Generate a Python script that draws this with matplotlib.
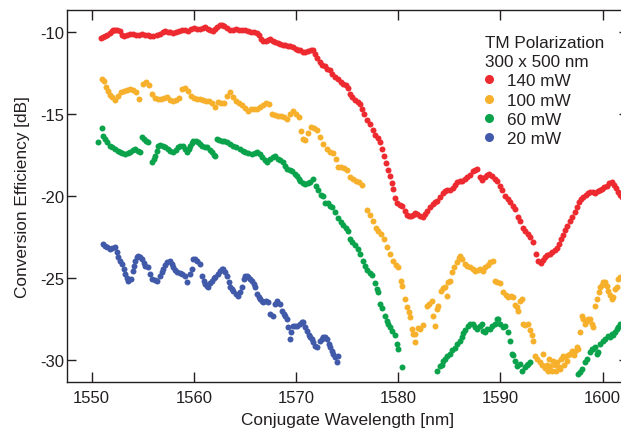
import matplotlib
matplotlib.use("Agg")
import matplotlib.pyplot as plt
from matplotlib.lines import Line2D

plt.rcParams['font.family'] = ['Liberation Sans', 'DejaVu Sans']
plt.rcParams['axes.unicode_minus'] = False

# ---------------- data ----------------
red_x = [1550.91, 1551.11, 1551.30, 1551.50, 1551.79, 1551.98, 1552.08, 1552.28, 1552.47, 1552.77,
         1552.96, 1553.16, 1553.45, 1553.75, 1554.04, 1554.33, 1554.63, 1554.92, 1555.22, 1555.51,
         1555.70, 1556.00, 1556.39, 1556.68, 1556.98, 1557.17, 1557.47, 1557.66, 1557.96, 1558.25,
         1558.54, 1558.84, 1559.13, 1559.42, 1559.72, 1560.01, 1560.30, 1560.60, 1560.89, 1561.09,
         1561.38, 1561.58, 1561.87, 1562.06, 1562.26, 1562.55, 1562.75, 1562.94, 1563.24, 1563.53,
         1563.82, 1564.12, 1564.41, 1564.71, 1565.00, 1565.29, 1565.59, 1565.88, 1566.18, 1566.37,
         1566.57, 1566.76, 1567.05, 1567.25, 1567.45, 1567.74, 1567.94, 1568.23, 1568.42, 1568.72,
         1568.91, 1569.21, 1569.40, 1569.70, 1569.99, 1570.19, 1570.38, 1570.68, 1570.87, 1571.17,
         1571.46, 1571.65, 1571.85, 1572.05, 1572.34, 1572.53, 1572.83, 1573.02, 1573.32, 1573.51,
         1573.81, 1574.10, 1574.39, 1574.59, 1574.88, 1575.08, 1575.27, 1575.47, 1575.77, 1576.06,
         1576.25, 1576.45, 1576.64, 1576.94, 1577.23, 1577.52, 1577.72, 1578.01, 1578.21, 1578.41,
         1578.60, 1578.80, 1578.99, 1579.19, 1579.38, 1579.48, 1579.68, 1579.87, 1580.17, 1580.36,
         1580.66, 1580.85, 1581.05, 1581.24, 1581.44, 1581.64, 1581.83, 1582.12, 1582.42, 1582.61,
         1582.81, 1583.10, 1583.40, 1583.59, 1583.79, 1584.08, 1584.37, 1584.57, 1584.77, 1585.06,
         1585.35, 1585.55, 1585.74, 1586.04, 1586.23, 1586.53, 1586.72, 1587.02, 1587.31, 1587.51,
         1587.70, 1587.99, 1588.19, 1588.48, 1588.68, 1588.87, 1589.17, 1589.46, 1589.66, 1589.95,
         1590.15, 1590.44, 1590.74, 1590.93, 1591.22, 1591.42, 1591.71, 1591.91, 1592.20, 1592.40,
         1592.69, 1592.89, 1593.18, 1593.47, 1593.67, 1593.96, 1594.16, 1594.36, 1594.55, 1594.84,
         1595.04, 1595.33, 1595.53, 1595.72, 1595.92, 1596.12, 1596.31, 1596.51, 1596.80, 1597.00,
         1597.29, 1597.49, 1597.68, 1597.88, 1598.07, 1598.37, 1598.56, 1598.76, 1599.05, 1599.25,
         1599.54, 1599.74, 1599.93, 1600.13, 1600.42, 1600.62, 1600.91, 1601.11, 1601.30, 1601.50,
         1601.70, 1601.89]
red_y = [-10.37, -10.30, -10.24, -10.18, -10.06, -9.94, -9.88, -9.88, -9.88, -9.94,
         -10.18, -10.24, -10.18, -10.12, -10.12, -10.18, -10.18, -10.12, -10.18, -10.18,
         -10.24, -10.24, -10.18, -10.12, -10.00, -9.94, -10.00, -10.00, -10.06, -10.00,
         -9.94, -9.88, -9.88, -9.94, -9.82, -9.76, -9.82, -9.82, -9.76, -9.70,
         -9.82, -9.88, -9.94, -9.82, -9.70, -9.57, -9.57, -9.63, -9.76, -9.88,
         -9.88, -9.82, -9.88, -9.88, -9.88, -9.94, -10.00, -10.00, -10.06, -10.18,
         -10.43, -10.55, -10.55, -10.49, -10.43, -10.55, -10.61, -10.67, -10.73, -10.79,
         -10.79, -10.85, -10.85, -10.91, -11.04, -11.10, -11.10, -11.22, -11.22, -11.16,
         -11.10, -11.10, -11.34, -11.59, -11.83, -12.01, -12.07, -12.26, -12.32, -12.56,
         -12.74, -12.87, -13.05, -13.17, -13.23, -13.41, -13.78, -13.96, -14.15, -14.27,
         -14.39, -14.70, -15.00, -15.37, -15.61, -15.98, -16.28, -16.46, -16.71, -17.13,
         -17.56, -17.99, -18.42, -18.78, -19.21, -19.57, -20.12, -20.43, -20.55, -20.61,
         -20.91, -21.16, -21.22, -21.22, -21.16, -21.04, -21.10, -21.22, -21.28, -21.10,
         -20.91, -20.67, -20.49, -20.37, -20.30, -20.06, -19.82, -19.70, -19.63, -19.63,
         -19.51, -19.33, -19.15, -19.09, -19.09, -18.96, -18.84, -18.72, -18.48, -18.42,
         -18.35, -18.84, -19.02, -18.84, -18.72, -18.66, -18.78, -18.96, -19.09, -19.39,
         -19.63, -20.00, -20.18, -20.37, -20.61, -20.79, -21.28, -21.52, -21.95, -22.13,
         -22.32, -22.50, -22.81, -23.54, -23.96, -24.09, -23.90, -23.72, -23.60, -23.54,
         -23.41, -23.29, -23.17, -22.93, -22.62, -22.38, -22.07, -21.83, -21.52, -21.28,
         -20.98, -20.67, -20.37, -20.18, -20.06, -19.94, -19.82, -19.76, -19.76, -19.82,
         -19.70, -19.63, -19.57, -19.45, -19.39, -19.21, -19.15, -19.33, -19.51, -19.76,
         -19.94, -20.06]

orange_x = [1550.98, 1551.20, 1551.40, 1551.59, 1551.79, 1551.98, 1552.28, 1552.57, 1552.87, 1553.16,
            1553.45, 1553.75, 1554.04, 1554.33, 1554.63, 1555.02, 1555.31, 1555.61, 1555.90, 1556.19,
            1556.49, 1556.78, 1557.07, 1557.37, 1557.66, 1557.96, 1558.25, 1558.54, 1558.84, 1559.13,
            1559.42, 1559.72, 1560.01, 1560.30, 1560.60, 1560.89, 1561.18, 1561.48, 1561.77, 1562.06,
            1562.36, 1562.65, 1562.94, 1563.24, 1563.53, 1563.82, 1564.12, 1564.41, 1564.71, 1565.00,
            1565.29, 1565.59, 1565.88, 1566.18, 1566.47, 1566.76, 1567.05, 1567.35, 1567.64, 1567.94,
            1568.23, 1568.52, 1568.82, 1569.11, 1569.40, 1569.70, 1569.99, 1570.28, 1570.48, 1570.68,
            1570.87, 1571.17, 1571.46, 1571.75, 1572.05, 1572.34, 1572.63, 1573.02, 1573.32, 1573.61,
            1573.90, 1574.10, 1574.39, 1574.69, 1574.98, 1575.27, 1575.57, 1575.86, 1576.15, 1576.45,
            1576.94, 1577.23, 1577.52, 1577.82, 1578.01, 1578.31, 1578.60, 1578.90, 1579.19, 1579.48,
            1579.78, 1579.97, 1580.26, 1580.36, 1580.66, 1580.85, 1581.05, 1581.15, 1581.34, 1581.44,
            1581.64, 1581.64, 1581.93, 1582.12, 1582.42, 1582.81, 1583.01, 1583.30, 1583.40, 1583.59,
            1583.79, 1583.89, 1584.18, 1584.37, 1584.57, 1584.77, 1584.86, 1585.06, 1585.25, 1585.45,
            1585.74, 1585.94, 1586.04, 1586.23, 1586.53, 1586.72, 1587.02, 1587.31, 1587.51, 1587.80,
            1587.99, 1588.29, 1588.48, 1588.78, 1588.97, 1589.27, 1589.46, 1589.66, 1589.95, 1590.25,
            1590.54, 1590.74, 1591.03, 1591.22, 1591.42, 1591.62, 1591.71, 1591.91, 1592.10, 1592.20,
            1592.40, 1592.69, 1592.89, 1593.08, 1593.18, 1593.38, 1593.57, 1593.87, 1594.06, 1594.16,
            1594.36, 1594.55, 1594.65, 1594.75, 1594.84, 1595.04, 1595.14, 1595.33, 1595.43, 1595.53,
            1595.72, 1595.82, 1595.92, 1596.12, 1596.21, 1596.31, 1596.51, 1596.61, 1596.80, 1597.00,
            1597.19, 1597.29, 1597.49, 1597.58, 1597.78, 1597.98, 1598.07, 1598.27, 1598.47, 1598.56,
            1598.76, 1598.96, 1599.05, 1599.25, 1599.44, 1599.64, 1599.74, 1599.93, 1600.03, 1600.23,
            1600.42, 1600.52, 1600.72, 1600.91, 1601.01, 1601.20, 1601.40, 1601.50, 1601.70]
orange_y = [-12.87, -12.99, -13.35, -13.60, -13.84, -13.96, -14.15, -13.90, -13.66, -13.60,
            -13.54, -13.48, -13.54, -13.66, -14.09, -13.17, -13.05, -13.23, -13.78, -14.02,
            -14.09, -14.09, -14.02, -13.96, -14.15, -14.21, -14.15, -14.02, -13.48, -13.41,
            -13.60, -13.90, -14.02, -14.09, -14.09, -14.15, -14.21, -14.21, -14.33, -14.57,
            -14.27, -14.33, -14.33, -13.90, -13.66, -13.96, -14.21, -14.33, -14.45, -14.63,
            -14.82, -14.70, -14.70, -14.70, -14.57, -14.45, -14.33, -14.39, -15.00, -15.06,
            -15.12, -15.12, -15.18, -15.30, -15.00, -14.82, -15.00, -15.18, -16.04, -16.52,
            -16.59, -16.16, -15.79, -15.85, -15.98, -16.40, -16.83, -17.13, -17.31, -17.38,
            -17.74, -18.23, -18.23, -18.29, -18.42, -18.84, -18.96, -19.09, -19.15, -19.33,
            -20.85, -21.16, -21.52, -21.95, -22.13, -22.32, -22.62, -23.11, -23.54, -23.96,
            -24.21, -24.33, -25.18, -25.49, -26.28, -26.77, -27.07, -27.38, -28.11, -28.42,
            -28.90, -28.42, -28.05, -28.11, -27.87, -26.71, -26.59, -26.40, -27.32, -27.93,
            -26.89, -26.71, -25.79, -25.61, -25.55, -26.10, -25.24, -25.18, -24.63, -24.33,
            -24.02, -23.78, -23.66, -23.84, -24.15, -24.27, -24.33, -24.45, -24.56, -24.51,
            -24.45, -24.56, -24.33, -24.21, -24.02, -23.96, -25.18, -25.24, -25.30, -25.85,
            -26.04, -26.16, -26.10, -26.16, -26.65, -26.77, -27.01, -26.40, -26.28, -27.80,
            -27.87, -27.80, -28.17, -28.48, -28.84, -29.76, -29.94, -30.11, -30.30, -29.63,
            -30.49, -30.30, -30.67, -29.94, -30.37, -30.67, -30.06, -30.30, -30.67, -30.11,
            -30.43, -30.55, -29.94, -29.76, -30.30, -29.82, -30.06, -29.69, -29.63, -29.44,
            -29.69, -29.44, -29.21, -29.33, -28.29, -27.32, -27.50, -27.80, -27.62, -27.50,
            -27.50, -27.80, -27.99, -26.71, -26.28, -25.85, -25.55, -25.43, -25.24, -25.24,
            -25.49, -25.79, -26.04, -26.28, -26.16, -25.67, -25.55, -25.06, -24.94]

green_x = [1550.62, 1551.01, 1551.11, 1551.30, 1551.50, 1551.79, 1551.98, 1552.28, 1552.57, 1552.77,
           1552.96, 1553.26, 1553.55, 1553.75, 1554.04, 1554.24, 1554.53, 1554.73, 1554.92, 1555.12,
           1555.31, 1555.51, 1555.90, 1556.10, 1556.19, 1556.39, 1556.49, 1556.68, 1556.98, 1557.17,
           1557.47, 1557.66, 1557.96, 1558.25, 1558.45, 1558.64, 1558.93, 1559.13, 1559.32, 1559.52,
           1559.62, 1559.81, 1559.91, 1560.20, 1560.40, 1560.60, 1560.79, 1561.09, 1561.28, 1561.58,
           1561.77, 1561.97, 1562.06, 1562.26, 1562.46, 1562.75, 1562.94, 1563.24, 1563.53, 1563.82,
           1564.12, 1564.51, 1564.80, 1565.00, 1565.29, 1565.69, 1565.98, 1566.18, 1566.47, 1566.66,
           1566.96, 1567.15, 1567.45, 1567.74, 1567.94, 1568.23, 1568.42, 1568.72, 1568.91, 1569.11,
           1569.40, 1569.60, 1569.89, 1570.09, 1570.28, 1570.38, 1570.68, 1570.87, 1571.17, 1571.36,
           1571.65, 1571.95, 1572.14, 1572.44, 1572.63, 1572.83, 1573.12, 1573.32, 1573.51, 1573.81,
           1574.10, 1574.39, 1574.59, 1574.88, 1575.08, 1575.27, 1575.47, 1575.77, 1576.06, 1576.25,
           1576.55, 1576.74, 1576.94, 1577.23, 1577.43, 1577.72, 1577.91, 1578.01, 1578.21, 1578.41,
           1578.70, 1578.90, 1578.99, 1579.19, 1579.38, 1579.68, 1579.87, 1579.97, 1580.36,
           1583.79, 1584.08, 1584.28, 1584.37, 1584.57, 1584.77, 1585.06, 1585.25, 1585.55, 1585.74,
           1586.04, 1586.23, 1586.33, 1586.53, 1586.82, 1587.02, 1587.31, 1587.51, 1587.70, 1587.99,
           1588.19, 1588.29, 1588.48, 1588.68, 1588.97, 1589.17, 1589.46, 1589.66, 1589.76, 1589.95,
           1590.25, 1590.44, 1590.74, 1590.93, 1591.13, 1591.22, 1591.42, 1591.62, 1591.91, 1592.10,
           1592.40, 1592.59, 1592.69, 1592.89,
           1597.58, 1597.78, 1597.98, 1598.27, 1598.47, 1598.76, 1598.96, 1599.05, 1599.25, 1599.44,
           1599.54, 1599.74, 1600.03, 1600.23, 1600.52, 1600.72, 1600.91, 1601.01, 1601.20, 1601.40,
           1601.50, 1601.70, 1601.79]
green_y = [-16.71, -15.85, -16.34, -16.52, -16.71, -16.94, -17.01, -17.13, -17.26, -17.31,
           -17.38, -17.44, -17.38, -17.31, -17.19, -17.13, -17.26, -17.31, -16.40, -16.52,
           -16.65, -16.71, -17.93, -17.74, -17.56, -17.26, -16.94, -16.89, -16.94, -17.01,
           -17.13, -17.26, -17.31, -17.19, -17.01, -16.94, -16.94, -17.13, -17.31, -17.13,
           -16.94, -16.77, -16.65, -16.65, -16.71, -16.83, -16.94, -17.01, -17.01, -17.19,
           -17.31, -17.50, -17.56, -16.52, -16.59, -16.65, -16.65, -16.71, -16.83, -16.94,
           -17.01, -17.13, -17.26, -17.31, -17.38, -17.44, -17.38, -17.31, -17.44, -17.62,
           -17.80, -17.93, -17.74, -17.62, -17.56, -17.74, -17.80, -17.93, -18.17, -18.35,
           -18.42, -18.48, -18.66, -18.78, -18.96, -19.09, -19.21, -19.27, -19.21, -19.15,
           -18.96, -19.39, -19.63, -19.94, -20.00, -20.43, -20.43, -20.61, -20.67, -20.98,
           -21.34, -21.59, -21.77, -21.95, -22.13, -22.62, -22.81, -22.99, -23.23, -23.54,
           -23.96, -24.27, -24.51, -24.70, -24.82, -25.30, -25.67, -25.85, -26.59, -26.83,
           -27.32, -27.62, -27.80, -27.99, -28.23, -28.48, -29.02, -29.33, -30.43,
           -30.67, -30.37, -30.30, -30.06, -29.94, -29.76, -29.63, -29.39, -29.27, -29.02,
           -28.84, -28.60, -28.35, -28.17, -27.93, -27.80, -27.80, -27.99, -28.11, -27.93,
           -27.80, -28.23, -28.29, -28.11, -28.11, -27.93, -27.80, -27.50, -27.50, -27.80,
           -27.99, -27.93, -28.29, -28.84, -29.63, -29.69, -30.06, -30.37, -30.24, -30.67,
           -30.43, -30.30, -30.24, -30.11,
           -30.85, -30.73, -30.55, -30.11, -29.94, -29.51, -29.33, -29.33, -29.21, -29.63,
           -29.51, -29.02, -28.84, -28.72, -28.54, -28.60, -28.42, -28.48, -28.29, -28.11,
           -27.99, -27.80, -27.93]

blue_x = [1551.11, 1551.30, 1551.50, 1551.79, 1551.98, 1552.28, 1552.47, 1552.57, 1552.77, 1552.96,
          1553.16, 1553.26, 1553.45, 1553.55, 1553.85, 1554.04, 1554.14, 1554.24, 1554.43, 1554.53,
          1554.73, 1554.92, 1555.12, 1555.22, 1555.51, 1555.70, 1555.90, 1556.19, 1556.39, 1556.68,
          1556.88, 1556.98, 1557.17, 1557.37, 1557.66, 1557.86, 1557.96, 1558.15, 1558.35, 1558.64,
          1558.84, 1559.13, 1559.32, 1559.62, 1559.81, 1559.91, 1560.11, 1560.30, 1560.60, 1560.79,
          1560.99, 1561.09, 1561.28, 1561.38, 1561.58, 1561.77, 1561.97, 1562.06, 1562.36, 1562.55,
          1562.75, 1562.85, 1563.04, 1563.24, 1563.43, 1563.53, 1563.73, 1563.82, 1564.12, 1564.31,
          1564.51, 1564.71, 1564.90, 1565.00, 1565.20, 1565.29, 1565.49, 1565.69, 1565.88, 1565.98,
          1566.18, 1566.37, 1566.47, 1566.66, 1566.76, 1567.05, 1567.25, 1567.45, 1567.74, 1567.94,
          1568.13, 1568.42, 1568.62, 1568.82, 1568.91, 1569.11, 1569.21, 1569.40, 1569.50, 1569.70,
          1569.89, 1570.09, 1570.38, 1570.58, 1570.68, 1570.87, 1571.07, 1571.26, 1571.36, 1571.56,
          1571.65, 1571.85, 1572.05, 1572.34, 1572.53, 1572.63, 1572.83, 1573.02, 1573.22, 1573.32,
          1573.51, 1573.61, 1573.81, 1574.00, 1574.10]
blue_y = [-22.93, -23.05, -23.11, -23.23, -23.17, -23.11, -23.41, -23.72, -23.96, -24.15,
          -24.45, -24.76, -25.00, -25.18, -25.06, -24.56, -24.27, -23.96, -23.72, -23.66,
          -23.72, -23.84, -24.09, -24.27, -24.33, -24.76, -25.06, -25.12, -25.18, -24.88,
          -24.63, -24.45, -24.21, -24.02, -23.96, -24.15, -24.33, -24.51, -24.63, -24.70,
          -24.76, -24.88, -25.24, -24.76, -24.45, -23.84, -23.84, -23.96, -24.15, -24.88,
          -25.18, -25.37, -25.49, -25.55, -25.30, -25.18, -25.00, -24.94, -24.76, -24.56,
          -24.45, -24.45, -24.63, -24.88, -25.24, -25.55, -25.67, -25.79, -25.98, -26.10,
          -25.85, -25.55, -25.06, -24.88, -24.88, -24.94, -25.06, -25.18, -25.37, -25.55,
          -25.98, -26.16, -26.28, -26.40, -26.46, -26.40, -26.46, -27.20, -27.32, -26.59,
          -26.40, -26.59, -27.01, -27.20, -27.32, -27.50, -27.99, -28.72, -28.29, -27.93,
          -27.93, -27.93, -27.80, -27.68, -27.68, -27.99, -28.23, -28.48, -28.60, -28.72,
          -28.90, -29.15, -29.21, -28.84, -28.72, -28.60, -28.60, -28.72, -29.02, -29.21,
          -29.44, -29.63, -29.82, -30.11, -29.76]

series_labels = ["140 mW", "100 mW", "60 mW", "20 mW"]
series_colors = ["#EC2A2F", "#F7B02C", "#0AA24B", "#4059A8"]
x_ticks = [1550, 1560, 1570, 1580, 1590, 1600]
y_ticks = [-30, -25, -20, -15, -10]
legend_title = "TM Polarization\n300 x 500 nm"

# ---------------- figure ----------------
W, H = 621, 431
fig = plt.figure(figsize=(W / 100, H / 100), dpi=100)
ax = fig.add_axes([67 / W, (H - 382.7) / H, (628 - 67) / W, (382.7 - 11) / H])

text_color = "#231F20"
series = [(red_x, red_y), (orange_x, orange_y), (green_x, green_y), (blue_x, blue_y)]
for (xs, ys), lab, col in zip(series, series_labels, series_colors):
    ax.plot(xs, ys, linestyle="none", marker="o", markersize=4.3,
            markeredgewidth=0, color=col, label=lab)

ax.set_xlim(1547.58, 1602.48)
ax.set_ylim(-31.32, -8.66)
ax.set_xticks(x_ticks)
ax.set_yticks(y_ticks)
ax.set_xticklabels([str(t) for t in x_ticks])
ax.set_yticklabels([str(t) for t in y_ticks])

for s in ax.spines.values():
    s.set_linewidth(1.0)
    s.set_color(text_color)

ax.tick_params(axis="x", direction="in", length=7.5, width=1.0, pad=6.0,
               top=True, labelsize=12, colors=text_color)
ax.tick_params(axis="y", direction="in", length=6.3, width=1.0, pad=2.0,
               right=True, labelsize=12, colors=text_color)

ax.set_xlabel("Conjugate Wavelength [nm]", fontsize=12.4, color=text_color, labelpad=5.0)
ax.set_ylabel("Conversion Efficiency [dB]", fontsize=12.4, color=text_color, labelpad=7)

handles = [Line2D([], [], linestyle="none", marker="o", markersize=6.5,
                  markeredgewidth=0, color=c) for c in series_colors]
leg = ax.legend(handles, series_labels, title=legend_title, loc="upper left",
                bbox_to_anchor=((485 - 67) / 561, (382.7 - 36.0) / 371.7),
                frameon=False, fontsize=12.3, title_fontsize=12.3,
                borderpad=0, borderaxespad=0, handlelength=0.45,
                handletextpad=0.85, labelspacing=0.25, alignment="left")
for t in leg.get_texts():
    t.set_color(text_color)
leg.get_title().set_color(text_color)
leg.get_title().set_linespacing(1.35)

fig.savefig("out.png", dpi=100)
